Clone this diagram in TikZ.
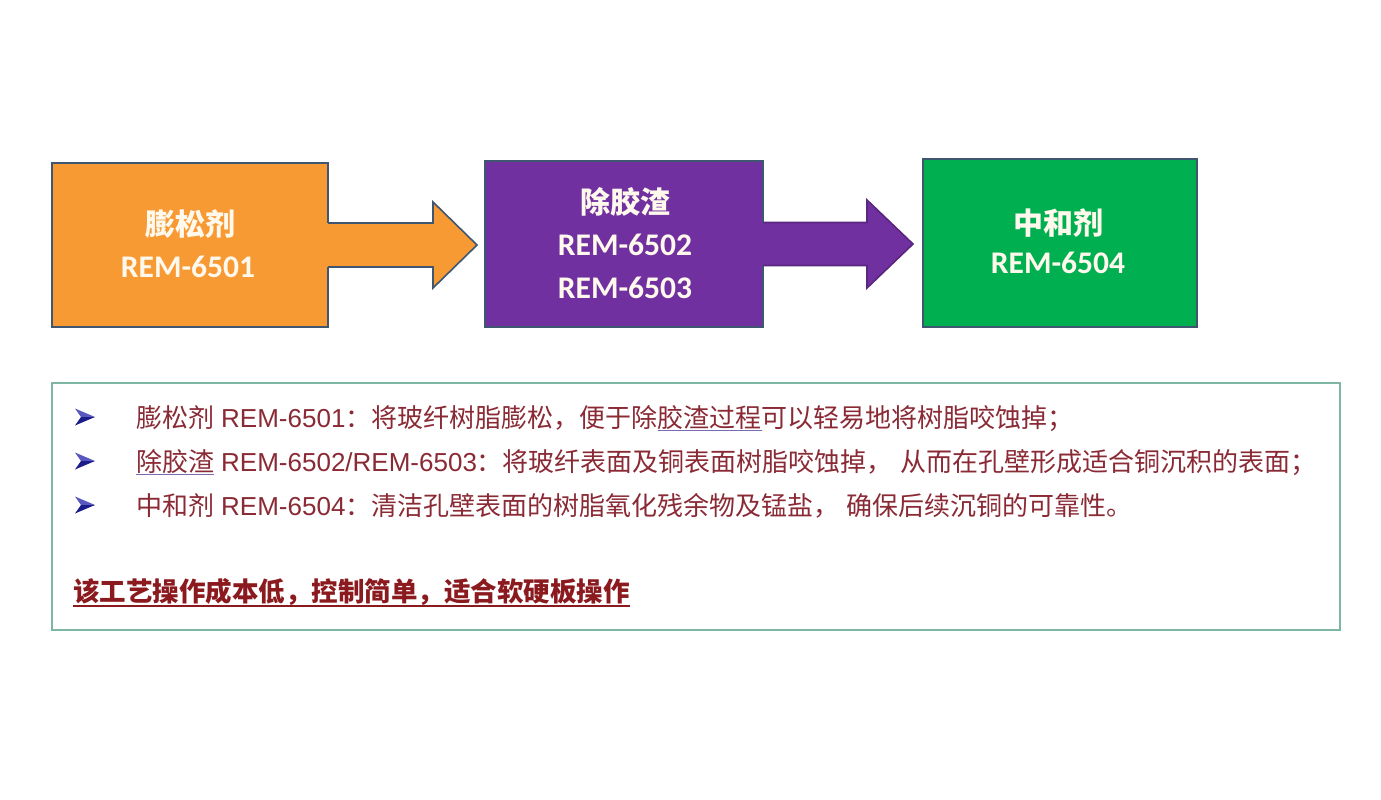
\documentclass[tikz,border=0pt]{standalone}
\usepackage{fontspec}
\setmainfont{Liberation Sans}
\newfontfamily\cjk{Noto Sans CJK SC}
\newfontfamily\carl{Carlito}
\usetikzlibrary{calc}
\definecolor{cOrange}{HTML}{F89A34}
\definecolor{cPurple}{HTML}{7030A0}
\definecolor{cGreen}{HTML}{00B050}
\definecolor{cEdge}{HTML}{3E5670}
\definecolor{cFrame}{HTML}{7DB7A3}
\definecolor{cText}{HTML}{8A2A35}
\definecolor{cBold}{HTML}{8B1A1F}
\definecolor{cBul}{HTML}{1C1C8A}
\definecolor{cBulL}{HTML}{5858C0}
\definecolor{cUnd}{HTML}{7A6AB0}
\definecolor{cLabel}{HTML}{FFF8EC}
\begin{document}
\begin{tikzpicture}[x=1pt,y=-1pt,
  boxst/.style={draw=cEdge, line width=1.6pt, inner sep=0pt, outer sep=0pt},
  titlest/.style={text=cLabel, font=\cjk\bfseries\fontsize{30}{34}\selectfont, inner sep=0pt, anchor=base},
  codest/.style={text=cLabel, font=\carl\bfseries\fontsize{31.5}{34}\selectfont, inner sep=0pt, anchor=base},
  bodyst/.style={text=cText, font=\fontsize{26}{30}\selectfont, inner sep=0pt, outer sep=0pt, anchor=base west},
  undst/.style={draw=cUnd, line width=1pt},
  edgest/.style={draw=cEdge, line width=1.6pt, line join=miter},
  bulletpic/.pic={
    \fill[cBulL] (-10,-8.5) -- (10,0) -- (-4,0) -- cycle;
    \fill[cBul] (-4,0) -- (10,0) -- (-10,8.5) -- cycle;
  }]
\fill[white] (0,0) rectangle (1381,800);
\useasboundingbox (0,0) rectangle (1381,800);

% stage boxes
\node[boxst, fill=cOrange, minimum width=276, minimum height=164] (b1) at (190,245) {};
\node[boxst, fill=cPurple, minimum width=278, minimum height=166] (b2) at (624,244) {};
\node[boxst, fill=cGreen, minimum width=274, minimum height=168] (b3) at (1060,243) {};

% block arrows
\fill[cOrange] ($(b1.east)+(-1,-22)$) -- ++(106,0) -- ++(0,-21) -- ($(b1.east)+(149,0)$)
  -- ($(b1.east)+(105,43)$) -- ++(0,-21) -- ($(b1.east)+(-1,22)$) -- cycle;
\draw[edgest] ($(b1.east)+(0,-22)$) -- ++(105,0) -- ++(0,-21) -- ($(b1.east)+(149,0)$)
  -- ($(b1.east)+(105,43)$) -- ++(0,-21) -- ($(b1.east)+(0,22)$);
\fill[cPurple] ($(b2.east)+(-1,-21.5)$) -- ++(105,0) -- ++(0,-22.5) -- ($(b2.east)+(150,0)$)
  -- ($(b2.east)+(104,44)$) -- ++(0,-22.5) -- ($(b2.east)+(-1,21.5)$) -- cycle;
\draw[edgest, draw=cPurple!80!black] ($(b2.east)+(0,-21.5)$) -- ++(104,0) -- ++(0,-22.5) -- ($(b2.east)+(150,0)$)
  -- ($(b2.east)+(104,44)$) -- ++(0,-22.5) -- ($(b2.east)+(0,21.5)$);

% stage labels
\node[titlest] (n1) at (190,235) {膨松剂};
\node[codest] (c1) at (188,277) {REM-6501};
\node[titlest] (n2) at (625,213) {除胶渣};
\node[codest] (c2) at (625,255) {REM-6502};
\node[codest] (c3) at (625,298) {REM-6503};
\node[titlest] (n3) at (1058,234) {中和剂};
\node[codest] (c4) at (1058,273) {REM-6504};

% description frame
\node[draw=cFrame, line width=1.8pt, minimum width=1288, minimum height=247, inner sep=0pt] (frame) at (696,506.5) {};

\pic at (85,417) {bulletpic};
\pic at (85,461) {bulletpic};
\pic at (85,505) {bulletpic};

\node[bodyst] (l1a) at (136,427) {{\cjk 膨松剂} REM-6501{\cjk ：将玻纤树脂膨松，便于除}};
\node[bodyst] (l1b) at (l1a.base east) {{\cjk 胶渣过程}};
\node[bodyst] (l1c) at (l1b.base east) {{\cjk 可以轻易地将树脂咬蚀掉；}};
\draw[undst] ($(l1b.base west)+(0,3)$) -- ($(l1b.base east)+(0,3)$);

\node[bodyst] (l2a) at (136,471) {{\cjk 除胶渣}};
\node[bodyst] (l2b) at (l2a.base east) {\ REM-6502/REM-6503{\cjk ：将玻纤表面及铜表面树脂咬蚀掉，} {\cjk 从而在孔壁形成适合铜沉积的表面；}};
\draw[undst] ($(l2a.base west)+(0,3)$) -- ($(l2a.base east)+(0,3)$);

\node[bodyst] (l3) at (136,515) {{\cjk 中和剂} REM-6504{\cjk ：清洁孔壁表面的树脂氧化残余物及锰盐，} {\cjk 确保后续沉铜的可靠性。}};

\node[bodyst, text=cBold, font=\cjk\bfseries\fontsize{26.5}{30}\selectfont] (bl) at (73,601) {该工艺操作成本低，控制简单，适合软硬板操作};
\draw[cBold, line width=1.5pt] ($(bl.base west)+(0,5)$) -- ($(bl.base east)+(0,5)$);
\end{tikzpicture}
\end{document}
